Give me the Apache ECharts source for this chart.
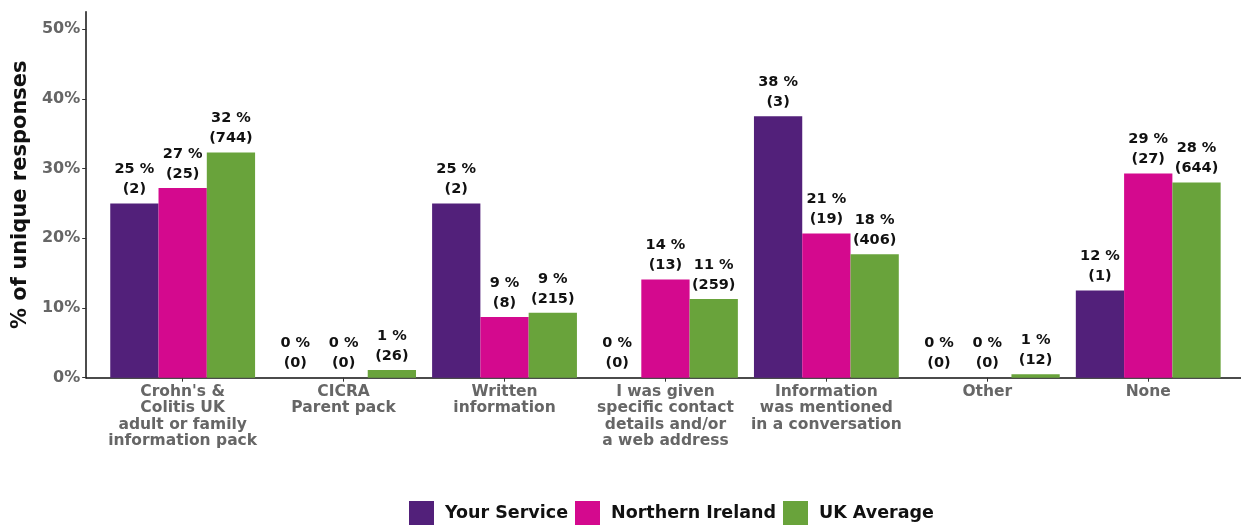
<!DOCTYPE html>
<html><head><meta charset="utf-8">
<script src="https://cdn.jsdelivr.net/npm/echarts@6/dist/echarts.min.js"></script>
<style>html,body{margin:0;padding:0;background:#fff}#c{width:1241px;height:525px}</style>
</head><body><div id="c"></div>
<script>
const categories = ["Crohn's &\nColitis UK\nadult or family\ninformation pack", "CICRA\nParent pack", "Written\ninformation", "I was given\nspecific contact\ndetails and/or\na web address", "Information\nwas mentioned\nin a conversation", "Other", "None"];
const seriesNames = ["Your Service", "Northern Ireland", "UK Average"];
const yourService = [25, 0, 25, 0, 37.5, 0, 12.5];
const northernIreland = [27.2, 0, 8.7, 14.1, 20.7, 0, 29.3];
const ukAverage = [32.3, 1.1, 9.3, 11.3, 17.7, 0.5, 28.0];
const yourServiceCounts = [2, 0, 2, 0, 3, 0, 1];
const northernIrelandCounts = [25, 0, 8, 13, 19, 0, 27];
const ukAverageCounts = [744, 26, 215, 259, 406, 12, 644];
const yourServicePct = [25, 0, 25, 0, 38, 0, 12];
const northernIrelandPct = [27, 0, 9, 14, 21, 0, 29];
const ukAveragePct = [32, 1, 9, 11, 18, 1, 28];
const yTicks = [0, 10, 20, 30, 40, 50];

const colors = ['#52207A', '#D4098E', '#69A33B'];
const FONT = 'DejaVu Sans';

function mk(name, vals, pct, cnt, color) {
  return {
    name: name, type: 'bar', xAxisIndex: 0, yAxisIndex: 0,
    data: vals, barGap: '0%', barCategoryGap: '10%',
    itemStyle: { color: color },
    label: {
      show: true, position: 'top', distance: 4,
      formatter: p => pct[p.dataIndex] + ' %\n(' + cnt[p.dataIndex] + ')',
      color: '#111', fontFamily: FONT, fontWeight: 'bold', fontSize: 14.5, lineHeight: 20
    }
  };
}

const chart = echarts.init(document.getElementById('c'), null, { renderer: 'canvas' });
chart.setOption({
  animation: false,
  color: colors,
  grid: [
    { left: 102.2, right: 12.3, top: 11.7, bottom: 147.3, containLabel: false },
    { left: 86, right: 0, top: 11.7, bottom: 147.3, containLabel: false }
  ],
  legend: {
    top: 501, left: 409, padding: 0, icon: 'rect', itemWidth: 25, itemHeight: 25, itemGap: 7,
    data: seriesNames,
    textStyle: { fontFamily: FONT, fontWeight: 'bold', fontSize: 17.5, color: '#111', padding: [0, 0, 0, 6] }
  },
  xAxis: [
    {
      type: 'category', gridIndex: 0, data: categories,
      axisLine: { show: false },
      axisTick: { show: true, alignWithLabel: true, length: 4, lineStyle: { color: '#333' } },
      axisLabel: { interval: 0, margin: 6, color: '#666', fontFamily: FONT, fontWeight: 'bold', fontSize: 15.5, lineHeight: 16.5 }
    },
    {
      type: 'value', gridIndex: 1, min: 0, max: 1,
      axisLine: { show: true, lineStyle: { color: '#111', width: 1.5 } },
      axisTick: { show: false }, axisLabel: { show: false }, splitLine: { show: false }
    }
  ],
  yAxis: [
    {
      type: 'value', gridIndex: 0, min: 0, max: 52.5, interval: 10, offset: 16,
      name: '% of unique responses', nameLocation: 'middle', nameGap: 53,
      nameTextStyle: { fontFamily: FONT, fontWeight: 'bold', fontSize: 21, color: '#111' },
      axisLine: { show: true, lineStyle: { color: '#111', width: 1.5 } },
      axisTick: { show: true, length: 4, lineStyle: { color: '#333' } },
      splitLine: { show: false },
      axisLabel: {
        margin: 6, color: '#666', fontFamily: FONT, fontWeight: 'bold', fontSize: 16,
        showMaxLabel: false,
        formatter: v => yTicks.indexOf(v) >= 0 ? v + '%' : ''
      }
    },
    {
      type: 'value', gridIndex: 1, min: 0, max: 1, show: false
    }
  ],
  series: [
    mk(seriesNames[0], yourService, yourServicePct, yourServiceCounts, colors[0]),
    mk(seriesNames[1], northernIreland, northernIrelandPct, northernIrelandCounts, colors[1]),
    mk(seriesNames[2], ukAverage, ukAveragePct, ukAverageCounts, colors[2])
  ]
});
</script></body></html>
